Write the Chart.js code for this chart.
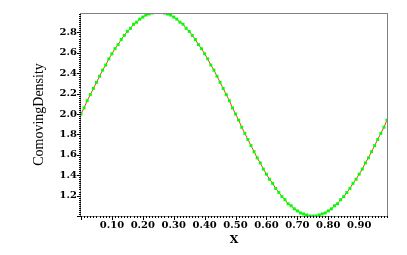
<!DOCTYPE html>
<html>
<head>
<meta charset="utf-8">
<script src="https://cdn.jsdelivr.net/npm/chart.js@4"></script>
<style>
  html, body { margin: 0; padding: 0; background: #fff; }
  #wrap { width: 407px; height: 255px; }
</style>
</head>
<body>
<div id="wrap"><canvas id="chart" width="407" height="255"></canvas></div>
<script>
// x positions of the samples
const xValues = [
  0.00, 0.01, 0.02, 0.03, 0.04, 0.05, 0.06, 0.07, 0.08, 0.09,
  0.10, 0.11, 0.12, 0.13, 0.14, 0.15, 0.16, 0.17, 0.18, 0.19,
  0.20, 0.21, 0.22, 0.23, 0.24, 0.25, 0.26, 0.27, 0.28, 0.29,
  0.30, 0.31, 0.32, 0.33, 0.34, 0.35, 0.36, 0.37, 0.38, 0.39,
  0.40, 0.41, 0.42, 0.43, 0.44, 0.45, 0.46, 0.47, 0.48, 0.49,
  0.50, 0.51, 0.52, 0.53, 0.54, 0.55, 0.56, 0.57, 0.58, 0.59,
  0.60, 0.61, 0.62, 0.63, 0.64, 0.65, 0.66, 0.67, 0.68, 0.69,
  0.70, 0.71, 0.72, 0.73, 0.74, 0.75, 0.76, 0.77, 0.78, 0.79,
  0.80, 0.81, 0.82, 0.83, 0.84, 0.85, 0.86, 0.87, 0.88, 0.89,
  0.90, 0.91, 0.92, 0.93, 0.94, 0.95, 0.96, 0.97, 0.98, 0.99
];
// comoving density (green markers)
const densityPoints = [
  2.00, 2.06, 2.13, 2.19, 2.25, 2.31, 2.37, 2.43, 2.48, 2.54,
  2.59, 2.64, 2.68, 2.73, 2.77, 2.81, 2.84, 2.88, 2.90, 2.93,
  2.95, 2.97, 2.98, 2.99, 3.00, 3.00, 3.00, 2.99, 2.98, 2.97,
  2.95, 2.93, 2.90, 2.88, 2.84, 2.81, 2.77, 2.73, 2.68, 2.64,
  2.59, 2.54, 2.48, 2.43, 2.37, 2.31, 2.25, 2.19, 2.13, 2.06,
  2.00, 1.94, 1.87, 1.81, 1.75, 1.69, 1.63, 1.57, 1.52, 1.46,
  1.41, 1.36, 1.32, 1.27, 1.23, 1.19, 1.16, 1.12, 1.10, 1.07,
  1.05, 1.03, 1.02, 1.01, 1.00, 1.00, 1.00, 1.01, 1.02, 1.03,
  1.05, 1.07, 1.10, 1.12, 1.16, 1.19, 1.23, 1.27, 1.32, 1.36,
  1.41, 1.46, 1.52, 1.57, 1.63, 1.69, 1.75, 1.81, 1.87, 1.94
];
// reference curve (red line underneath)
const densityLine = [
  2.00, 2.06, 2.13, 2.19, 2.25, 2.31, 2.37, 2.43, 2.48, 2.54,
  2.59, 2.64, 2.68, 2.73, 2.77, 2.81, 2.84, 2.88, 2.90, 2.93,
  2.95, 2.97, 2.98, 2.99, 3.00, 3.00, 3.00, 2.99, 2.98, 2.97,
  2.95, 2.93, 2.90, 2.88, 2.84, 2.81, 2.77, 2.73, 2.68, 2.64,
  2.59, 2.54, 2.48, 2.43, 2.37, 2.31, 2.25, 2.19, 2.13, 2.06,
  2.00, 1.94, 1.87, 1.81, 1.75, 1.69, 1.63, 1.57, 1.52, 1.46,
  1.41, 1.36, 1.32, 1.27, 1.23, 1.19, 1.16, 1.12, 1.10, 1.07,
  1.05, 1.03, 1.02, 1.00, 0.99, 0.99, 0.99, 1.00, 1.02, 1.03,
  1.05, 1.07, 1.10, 1.12, 1.16, 1.19, 1.23, 1.27, 1.32, 1.36,
  1.41, 1.46, 1.52, 1.57, 1.63, 1.69, 1.75, 1.81, 1.87, 1.94
];
const xRange = [0, 0.99];
const yRange = [1.0, 2.99];

const tickFont = { family: 'DejaVu Serif', size: 10, weight: 'bold' };

// frame + tick marks
const framePlugin = {
  id: 'frame',
  afterDraw(chart) {
    const { ctx, chartArea: a, scales } = chart;
    ctx.save();
    ctx.strokeStyle = '#808080';
    ctx.lineWidth = 1;
    ctx.strokeRect(a.left - 0.5, a.top + 0.5, a.right - a.left + 1, a.bottom - a.top);
    ctx.strokeStyle = '#000';
    scales.x.ticks.forEach(t => {
      const px = Math.round(scales.x.getPixelForValue(t.value)) + 0.5;
      const major = Math.round(t.value * 100) % 10 === 0;
      ctx.beginPath();
      ctx.moveTo(px, a.bottom);
      ctx.lineTo(px, a.bottom + (major ? 4 : 2));
      ctx.stroke();
    });
    scales.y.ticks.forEach(t => {
      const py = Math.round(scales.y.getPixelForValue(t.value)) + 0.5;
      const major = Math.round(t.value * 100) % 20 === 0;
      ctx.beginPath();
      ctx.moveTo(a.left, py);
      ctx.lineTo(a.left - (major ? 4 : 2), py);
      ctx.stroke();
    });
    ctx.restore();
  }
};

new Chart(document.getElementById('chart'), {
  type: 'scatter',
  data: {
    datasets: [
      {
        label: 'points',
        data: xValues.map((x, i) => ({ x, y: densityPoints[i] })),
        showLine: false,
        pointStyle: 'rect',
        pointRadius: 2.1,
        backgroundColor: '#00ff00',
        borderColor: '#00ff00',
        borderWidth: 0,
      },
      {
        label: 'line',
        data: xValues.map((x, i) => ({ x, y: densityLine[i] })),
        showLine: true,
        pointRadius: 0,
        borderColor: '#ff3b1f',
        borderWidth: 1,
      },
    ],
  },
  options: {
    responsive: false,
    animation: false,
    events: [],
    layout: { padding: { top: 13, right: 20, left: 0, bottom: 0 } },
    plugins: { legend: { display: false }, tooltip: { enabled: false } },
    scales: {
      x: {
        type: 'linear',
        min: xRange[0],
        max: xRange[1],
        afterFit: s => { s.height = 39; },
        afterBuildTicks: s => {
          const ticks = [];
          for (let k = 0; k <= 99; k++) ticks.push({ value: k / 100 });
          s.ticks = ticks;
        },
        ticks: {
          autoSkip: false,
          maxRotation: 0,
          padding: 3,
          color: '#000',
          font: tickFont,
          callback: v => {
            const k = Math.round(v * 100);
            return k > 0 && k % 10 === 0 ? v.toFixed(2) : '';
          },
        },
        grid: { display: false, drawTicks: false },
        border: { display: false },
        title: {
          display: true, text: 'X', color: '#000',
          font: { family: 'DejaVu Serif', size: 11, weight: 'bold' },
          padding: { top: 0, bottom: 8 },
        },
      },
      y: {
        min: yRange[0],
        max: yRange[1],
        afterFit: s => { s.width = 81; },
        afterBuildTicks: s => {
          const ticks = [];
          for (let k = 50; k <= 149; k++) ticks.push({ value: k / 50 });
          s.ticks = ticks;
        },
        ticks: {
          autoSkip: false,
          padding: 4,
          color: '#000',
          font: tickFont,
          callback: v => {
            const k = Math.round(v * 100);
            return k > 100 && k % 20 === 0 ? v.toFixed(1) : '';
          },
        },
        grid: { display: false, drawTicks: false },
        border: { display: false },
        title: {
          display: true, text: 'ComovingDensity', color: '#000',
          font: { family: 'Liberation Serif', size: 14 },
          padding: { top: 31, bottom: 0 },
        },
      },
    },
  },
  plugins: [framePlugin],
});
</script>
</body>
</html>
